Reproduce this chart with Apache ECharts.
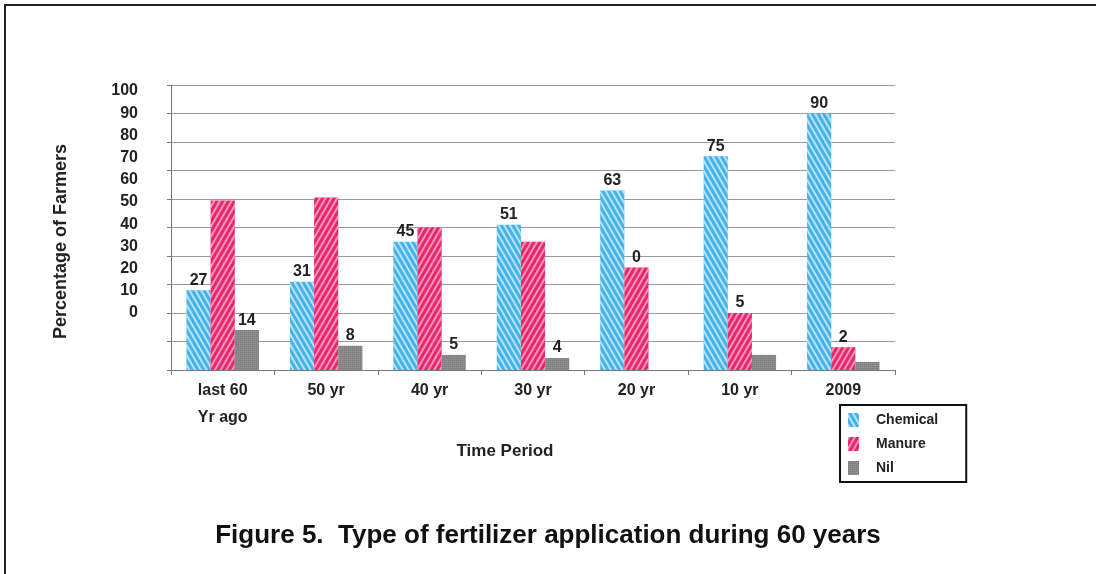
<!DOCTYPE html>
<html>
<head>
<meta charset="utf-8">
<script src="https://cdn.jsdelivr.net/npm/echarts@6/dist/echarts.min.js"></script>
<style>
  html, body { margin: 0; padding: 0; background: #fff; }
  #chart { width: 1096px; height: 574px; }
</style>
</head>
<body>
<div id="chart"></div>
<script>
// data
const periods = ["last 60\nYr ago", "50 yr", "40 yr", "30 yr", "20 yr", "10 yr", "2009"];
const chemical = [28, 31, 45, 51, 63, 75, 90];
const manure = [59.5, 60.5, 50, 45, 36, 20, 8];
const nil = [14, 8.5, 5.3, 4.2, 0, 5.3, 2.8];
// printed value labels (as they appear on the figure)
const chemicalLabels = ["27", "31", "45", "51", "63", "75", "90"];
const manureLabels = ["", "", "", "", "0", "5", "2"];
const nilLabels = ["14", "8", "5", "4", "", "", ""];
// printed y tick labels
const yTicks = [0, 10, 20, 30, 40, 50, 60, 70, 80, 90, 100];

const FONT = "Liberation Sans, Arial, sans-serif";

const chart = echarts.init(document.getElementById("chart"));

function valueLabel(texts) {
  return {
    show: true,
    position: "top",
    distance: 2,
    fontFamily: FONT,
    fontWeight: "bold",
    fontSize: 16,
    color: "#222",
    formatter: (p) => texts[p.dataIndex],
  };
}

const option = {
  backgroundColor: "#fff",
  animation: false,
  title: {
    text: "Figure 5.  Type of fertilizer application during 60 years",
    left: "center",
    top: 518,
    textStyle: { fontFamily: FONT, fontWeight: "bold", fontSize: 26, color: "#111" },
  },
  legend: {
    orient: "vertical",
    left: 840,
    top: 405,
    padding: [8, 28, 7, 8],
    borderColor: "#111",
    borderWidth: 2,
    itemWidth: 11,
    itemHeight: 14,
    itemGap: 10,
    icon: "rect",
    textStyle: { fontFamily: FONT, fontWeight: "bold", fontSize: 14, color: "#222", padding: [0, 0, 0, 12] },
    data: ["Chemical", "Manure", "Nil"],
  },
  grid: { left: 171, right: 201, top: 85, bottom: 204 },
  xAxis: {
    type: "category",
    data: periods,
    name: "Time Period",
    nameLocation: "middle",
    nameGap: 73,
    nameTextStyle: { fontFamily: FONT, fontWeight: "bold", fontSize: 17, color: "#222", padding: [0, 56, 0, 0] },
    axisLine: { lineStyle: { color: "#777" } },
    axisTick: { show: true, length: 5, lineStyle: { color: "#777" } },
    axisLabel: { fontFamily: FONT, fontWeight: "bold", fontSize: 16, color: "#222", margin: 7, lineHeight: 27 },
  },
  yAxis: [
    {
      type: "value",
      min: 0,
      max: 100,
      interval: 10,
      name: "Percentage of Farmers",
      nameLocation: "middle",
      nameGap: 101,
      nameTextStyle: { fontFamily: FONT, fontWeight: "bold", fontSize: 18, color: "#222", padding: [0, 28, 0, 0] },
      axisLine: { show: true, lineStyle: { color: "#777" } },
      axisTick: { show: true, length: 4, lineStyle: { color: "#777" } },
      axisLabel: { show: false },
      splitLine: { lineStyle: { color: "#999" } },
    },
    {
      type: "value",
      position: "left",
      min: -25.7,
      max: 102.7,
      axisLine: { show: false },
      axisTick: { show: false },
      splitLine: { show: false },
      axisLabel: {
        customValues: yTicks,
        margin: 33,
        fontFamily: FONT,
        fontWeight: "bold",
        fontSize: 16,
        color: "#222",
      },
    },
  ],
  series: [
    {
      name: "Chemical",
      type: "bar",
      data: chemical,
      barGap: "0%",
      barCategoryGap: "30%",
      itemStyle: {
        color: "#45b2ea",
        decal: {
          symbol: "rect",
          dashArrayX: [1, 0],
          dashArrayY: [2, 3],
          rotation: Math.PI / 3,
          color: "rgba(220,245,255,0.75)",
        },
      },
      label: valueLabel(chemicalLabels),
    },
    {
      name: "Manure",
      type: "bar",
      data: manure,
      itemStyle: {
        color: "#e8266f",
        decal: {
          symbol: "rect",
          dashArrayX: [1, 0],
          dashArrayY: [2, 3],
          rotation: -Math.PI / 3,
          color: "rgba(255,200,210,0.7)",
        },
      },
      label: valueLabel(manureLabels),
    },
    {
      name: "Nil",
      type: "bar",
      data: nil,
      itemStyle: {
        color: "#8d8d8d",
        decal: {
          symbol: "rect",
          symbolSize: 0.8,
          dashArrayX: [1, 1],
          dashArrayY: [1, 1],
          color: "rgba(110,110,110,0.8)",
        },
      },
      label: valueLabel(nilLabels),
    },
  ],
  graphic: [
    { type: "line", shape: { x1: 5, y1: 4, x2: 5, y2: 574 }, style: { stroke: "#222", lineWidth: 2 } },
    { type: "line", shape: { x1: 5, y1: 5, x2: 1096, y2: 5 }, style: { stroke: "#222", lineWidth: 2 } },
  ],
};

chart.setOption(option);
</script>
</body>
</html>
